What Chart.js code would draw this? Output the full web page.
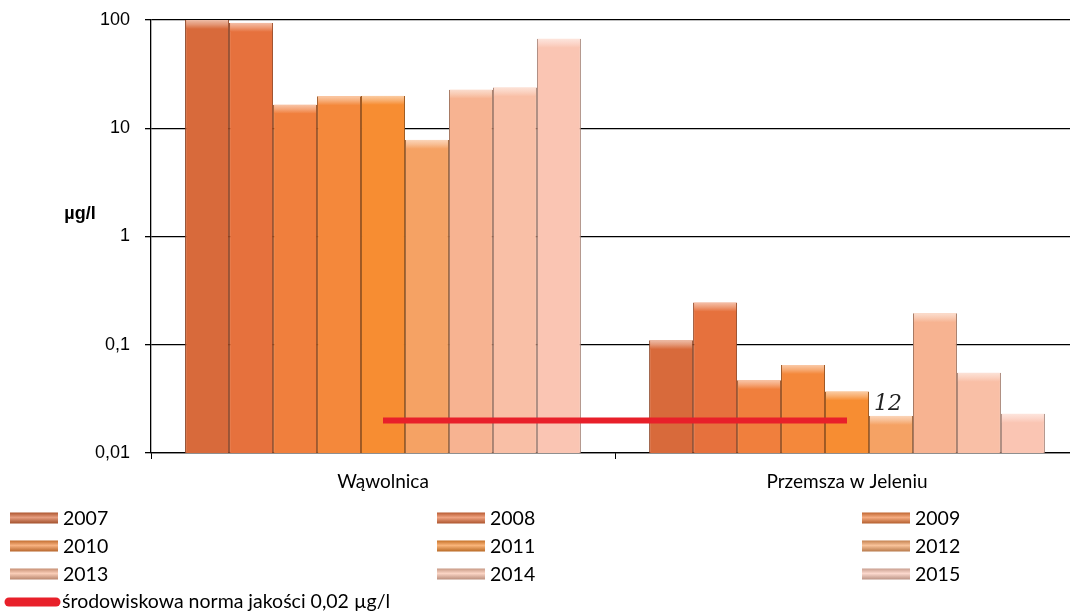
<!DOCTYPE html>
<html>
<head>
<meta charset="utf-8">
<script src="https://cdn.jsdelivr.net/npm/chart.js@4.4.1/dist/chart.umd.min.js"></script>
<style>
  html, body { margin: 0; padding: 0; background: #fff; overflow: hidden; width: 1070px; height: 613px; }
  #wrap { position: relative; width: 1080px; height: 613px; }
</style>
</head>
<body>
<div id="wrap"><canvas id="c" width="1080" height="613"></canvas></div>
<script>
// Stations and measurement years
const categories = ['Wąwolnica', 'Przemsza w Jeleniu'];
const years = ['2007', '2008', '2009', '2010', '2011', '2012', '2013', '2014', '2015'];

// Concentrations per year, µg/l
const wawolnica = [100, 94, 16.5, 19.7, 19.9, 7.8, 22.7, 23.8, 67];
const przemsza = [0.11, 0.245, 0.047, 0.065, 0.037, 0.022, 0.195, 0.055, 0.023];

// Environmental quality standard
const normValue = 0.02;
const normLabel = 'środowiskowa norma jakości 0,02 µg/l';

// Axis
const yTicks = [0.01, 0.1, 1, 10, 100];
const yTickLabels = ['0,01', '0,1', '1', '10', '100'];
const yUnit = 'µg/l';

// Hand-written remark next to the 2012 bar
const note = '12';
const noteYear = '2012';

// Fill colours, dark orange to pale pink
const barColors = ['#d86a3b', '#e6713d', '#f07f3d', '#f4883b', '#f78d32', '#f5a264', '#f7b391', '#f9bfa6', '#fac5b3'];
const normColor = '#e8202a';

function shade(hex, f) {
  const n = parseInt(hex.slice(1), 16);
  let r = (n >> 16) & 255, g = (n >> 8) & 255, b = n & 255;
  if (f < 0) { r *= 1 + f; g *= 1 + f; b *= 1 + f; }
  else { r += (255 - r) * f; g += (255 - g) * f; b += (255 - b) * f; }
  return 'rgb(' + Math.round(r) + ',' + Math.round(g) + ',' + Math.round(b) + ')';
}

const barDatasets = years.map((y, i) => ({
  type: 'bar',
  label: y,
  data: [wawolnica[i], przemsza[i]],
  backgroundColor: barColors[i],
  borderColor: shade(barColors[i], -0.35),
  borderWidth: { left: 1, right: 1, top: 0, bottom: 0 },
  borderSkipped: false,
  categoryPercentage: 0.853,
  barPercentage: 1.0,
  order: 1
}));

const normDataset = {
  type: 'line',
  label: normLabel,
  data: categories.map(() => normValue),
  borderColor: normColor,
  borderWidth: 6,
  borderCapStyle: 'butt',
  pointRadius: 0,
  fill: false,
  order: 0
};

// Lighter rounded cap on top of each bar
const barCaps = {
  id: 'barCaps',
  afterDatasetDraw(chart, args) {
    const ds = chart.data.datasets[args.index];
    if (ds.type !== 'bar') return;
    const ctx = chart.ctx;
    const col = barColors[args.index];
    args.meta.data.forEach(el => {
      const l = el.x - el.width / 2 + 1, w = el.width - 2, t = el.y;
      const g = ctx.createLinearGradient(0, t, 0, t + 9);
      g.addColorStop(0, shade(col, 0.55));
      g.addColorStop(0.5, shade(col, 0.3));
      g.addColorStop(1, col);
      ctx.save();
      ctx.fillStyle = g;
      ctx.fillRect(l, t, w, 9);
      ctx.restore();
    });
  }
};

// Unit label, remark, and the three-column legend
const extras = {
  id: 'extras',
  afterDraw(chart) {
    const ctx = chart.ctx;
    const area = chart.chartArea;
    const yScale = chart.scales.y;
    ctx.save();

    // unit
    ctx.fillStyle = '#000';
    ctx.font = 'bold 18px "Liberation Sans", Arial, sans-serif';
    ctx.textAlign = 'center';
    ctx.textBaseline = 'middle';
    ctx.fillText(yUnit, area.left - 71, yScale.getPixelForValue(1.6));

    // remark beside the bar it refers to
    const yi = years.indexOf(noteYear);
    const el = chart.getDatasetMeta(yi).data[1];
    ctx.font = 'italic 22px "DejaVu Serif", serif';
    ctx.fillStyle = '#222';
    ctx.textBaseline = 'alphabetic';
    ctx.fillText(note, el.x - 3, el.y - 6);

    // legend
    const cols = [10, 437, 862];
    const rows = [518, 546, 574, 602];
    const sw = 48, sh = 11;
    ctx.font = '19.5px Lato, "Open Sans", sans-serif';
    ctx.textAlign = 'left';
    ctx.textBaseline = 'middle';
    barDatasets.forEach((ds, i) => {
      const x = cols[i % 3], y = rows[Math.floor(i / 3)];
      const g = ctx.createLinearGradient(0, y - sh / 2, 0, y + sh / 2);
      g.addColorStop(0, shade(barColors[i], -0.2));
      g.addColorStop(0.45, shade(barColors[i], 0.35));
      g.addColorStop(1, shade(barColors[i], -0.25));
      ctx.fillStyle = g;
      ctx.fillRect(x, y - sh / 2, sw, sh);
      ctx.fillStyle = '#000';
      ctx.fillText(ds.label, x + sw + 5, y + 1);
    });
    // norm line entry
    const ny = rows[3];
    ctx.strokeStyle = normColor;
    ctx.lineWidth = 9;
    ctx.lineCap = 'round';
    ctx.beginPath();
    ctx.moveTo(9, ny);
    ctx.lineTo(56, ny);
    ctx.stroke();
    ctx.fillStyle = '#000';
    ctx.fillText(normLabel, 62, ny);
    ctx.restore();
  }
};

new Chart(document.getElementById('c'), {
  data: { labels: categories, datasets: [...barDatasets, normDataset] },
  options: {
    responsive: false,
    animation: false,
    devicePixelRatio: 1,
    layout: { padding: { left: 0, right: 1, top: 20, bottom: 120 } },
    plugins: { legend: { display: false }, tooltip: { enabled: false } },
    scales: {
      x: {
        type: 'category',
        offset: true,
        grid: { display: true, drawOnChartArea: false, drawTicks: true, tickLength: 6, offset: true, color: '#000', lineWidth: 1 },
        border: { display: true, color: '#000', width: 1.2 },
        ticks: { color: '#000', padding: 11, font: { family: 'Lato, "Open Sans", sans-serif', size: 19 } },
        afterFit(s) { s.height = 40; s.paddingLeft = 0; s.paddingRight = 0; }
      },
      y: {
        type: 'logarithmic',
        min: 0.01,
        max: 100,
        afterBuildTicks(s) { s.ticks = yTicks.map(v => ({ value: v })); },
        grid: { color: '#000', lineWidth: 1.3, tickLength: 6, drawTicks: true },
        border: { display: true, color: '#000', width: 1.3 },
        ticks: {
          color: '#000',
          padding: 15,
          font: { family: '"Liberation Sans", Arial, sans-serif', size: 18 },
          callback(v) { const i = yTicks.indexOf(v); return i >= 0 ? yTickLabels[i] : ''; }
        },
        afterFit(s) { s.width = 151; s.paddingTop = 0; s.paddingBottom = 0; }
      }
    }
  },
  plugins: [barCaps, extras]
});
</script>
</body>
</html>
